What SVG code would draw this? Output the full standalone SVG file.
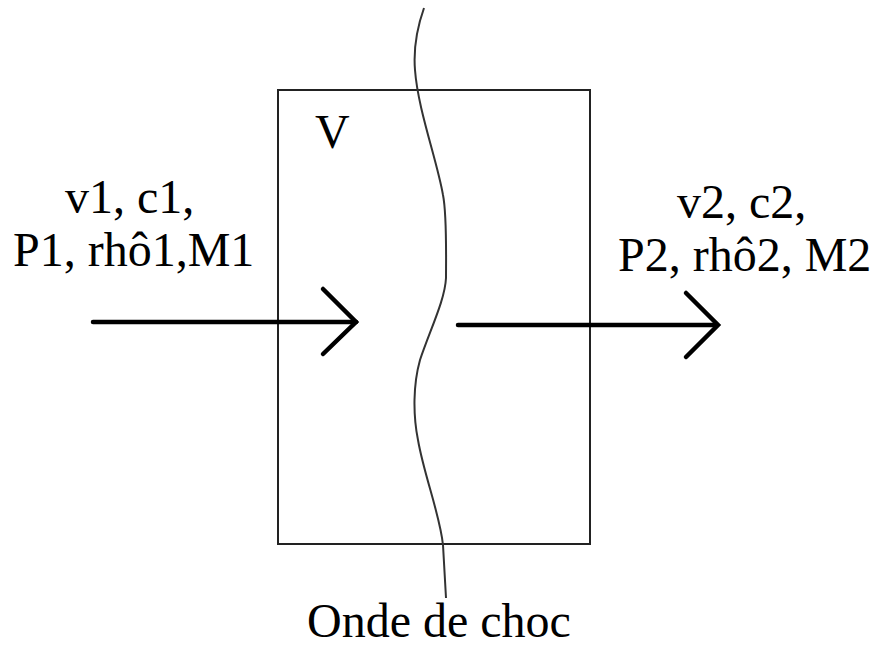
<svg xmlns="http://www.w3.org/2000/svg" width="879" height="646" viewBox="0 0 879 646">
<style>
.t{font-family:'Liberation Serif','DejaVu Serif',serif;font-size:48px;fill:#000}
.arr{fill:none;stroke:#000;stroke-width:4.5;stroke-linecap:round;stroke-linejoin:miter}
.box{fill:none;stroke:#222;stroke-width:2}
.wave{fill:none;stroke:#333;stroke-width:2}
</style>
<rect width="879" height="646" fill="#fff"/>
<g id="volume">
<rect class="box" x="278" y="90" width="312" height="454"/>
<text class="t" x="315" y="148">V</text>
</g>
<g id="shock-wave">
<path class="wave" d="M424,8 C418,25 413,45 415,70 C418,110 437,160 443,195 C447,215 446,260 446,278 C445,300 430,330 420,360 C413,385 413,415 418,440 C424,475 440,515 443,545 L446,598"/>
<text class="t" x="307" y="637">Onde de choc</text>
</g>
<g id="state1">
<text class="t" x="65" y="213">v1, c1,</text>
<text class="t" x="13" y="266">P1, rhô1,M1</text>
</g>
<g id="state2">
<text class="t" x="677" y="218">v2, c2,</text>
<text class="t" x="618" y="271">P2, rhô2, M2</text>
</g>
<g id="connectors">
<path class="arr" d="M93,322 H356"/>
<path class="arr" d="M323,289 L356,322 L323,354"/>
<path class="arr" d="M458,325 H717"/>
<path class="arr" d="M686,293 L718,325 L686,357"/>
</g>
</svg>
